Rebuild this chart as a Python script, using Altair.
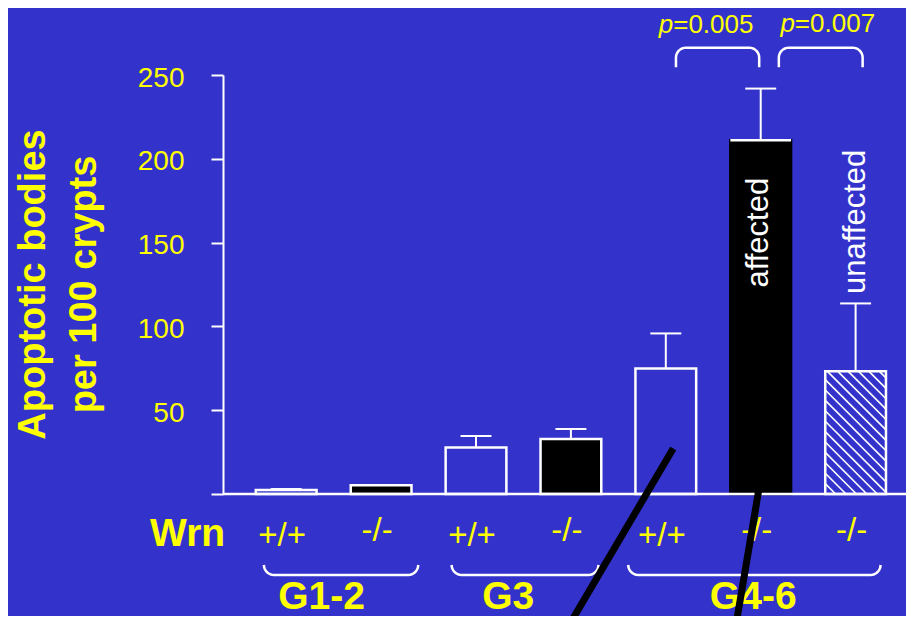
import altair as alt
import pandas as pd
import numpy as np

# ---------------- data ----------------
genotype = ["+/+", "-/-", "+/+", "-/-", "+/+", "-/-", "-/-"]
generation = ["G1-2", "G1-2", "G3", "G3", "G4-6", "G4-6", "G4-6"]
apoptotic_mean = [2.4, 5.2, 27.8, 32.8, 74.9, 211.1, 73.2]
apoptotic_err_top = [3.0, None, 34.6, 38.8, 95.8, 241.9, 113.7]
bar_style = ["open", "solid", "open", "solid", "open", "solid_plain", "hatched"]
bar_note = ["", "", "", "", "", "affected", "unaffected"]
group_names = ["G1-2", "G3", "G4-6"]
p_labels = ["=0.005", "=0.007"]
y_ticks = [0, 50, 100, 150, 200, 250]

# ---------------- layout (data units) ----------------
BG = "#3333CC"
YEL = "#FFFF00"
FONT = "Liberation Sans"
W, H = 683, 419
XMIN, XMAX = -0.666, 6.531
YMAX = 250
PXX = W / (XMAX - XMIN)
PXY = H / YMAX
HALF = 0.32
CAP = 0.163

xs = alt.Scale(domain=[XMIN, XMAX], nice=False, zero=False)
ys = alt.Scale(domain=[0, YMAX], nice=False, zero=False)

yaxis = alt.Axis(
    values=y_ticks, labelExpr="datum.value == 0 ? '' : datum.label",
    grid=False, domainColor="white", domainWidth=2, tickColor="white", tickWidth=2,
    tickSize=12, labelColor=YEL, labelFontSize=28, labelPadding=27, labelOffset=3,
    labelFont=FONT,
    title=["Apoptotic bodies", "per 100 crypts"], titleColor=YEL, titleFont=FONT,
    titleFontSize=38, titleFontWeight="bold", titleAngle=270, titleAlign="center",
    titleBaseline="alphabetic", titleLineHeight=51, titleX=-179, titleY=209,
)


def X(f):
    return alt.X(f, scale=xs, axis=None)


def Y(f):
    return alt.Y(f, scale=ys, axis=yaxis)


n = len(genotype)
idx = list(range(n))
fills = {"open": BG, "solid": "black", "solid_plain": "black", "hatched": BG}
strokes = {"open": "white", "solid": "white", "solid_plain": "black", "hatched": "white"}

bars = pd.DataFrame({
    "x0": [i - HALF for i in idx], "x1": [i + HALF for i in idx],
    "mean": apoptotic_mean, "zero": [0] * n,
    "fill": [fills[s] for s in bar_style], "stroke": [strokes[s] for s in bar_style],
})

err = pd.DataFrame({"x": idx, "mean": apoptotic_mean, "top": apoptotic_err_top})
err = err.dropna()
err["c0"] = err["x"] - CAP
err["c1"] = err["x"] + CAP

# hatch pattern for the hatched bar (geometry, in pixels converted to data units)
hx = []
for i, s in enumerate(bar_style):
    if s != "hatched":
        continue
    bx0, bx1 = 0.0, 2 * HALF * PXX
    by0, by1 = 0.0, apoptotic_mean[i] * PXY
    step = 10.4
    c = -by1
    while c < bx1:
        xa = max(bx0, c + by0)
        xb = min(bx1, c + by1)
        if xb > xa:
            ya, yb = xa - c, xb - c
            hx.append({
                "x": i - HALF + xa / PXX, "x2": i - HALF + xb / PXX,
                "y": apoptotic_mean[i] - ya / PXY, "y2": apoptotic_mean[i] - yb / PXY,
            })
        c += step
hatch = pd.DataFrame(hx)

topedge = pd.DataFrame([{"x0": i - HALF, "x1": i + HALF, "y": apoptotic_mean[i]}
                        for i, s in enumerate(bar_style) if s == "solid_plain"])

baseline = pd.DataFrame({"x0": [XMIN], "x1": [XMAX], "y": [0]})

geno_y = [-31.0 if g == "+/+" else -28.0 for g in genotype]
geno = pd.DataFrame({"x": idx, "y": geno_y, "t": genotype})

wrn = pd.DataFrame({"x": [-1.435], "y": [-30.8], "t": ["Wrn"]})

group_span = [(-0.235, 1.391), (1.743, 3.29), (3.604, 6.263)]
group_label_x = [0.373, 2.339, 4.921]
groups = pd.DataFrame({"x": group_label_x, "y": [-68.6] * 3, "t": group_names})


def bracket(bid, x0, x1, yflat, yend, r=10):
    rx, ry = r / PXX, r / PXY
    sgn = 1 if yend > yflat else -1
    pts = [(x0, yend), (x0, yflat + sgn * ry)]
    for a in np.linspace(0, np.pi / 2, 9)[1:]:
        pts.append((x0 + rx - rx * np.cos(a), yflat + sgn * ry - sgn * ry * np.sin(a)))
    for a in np.linspace(np.pi / 2, 0, 9):
        pts.append((x1 - rx + rx * np.cos(a), yflat + sgn * ry - sgn * ry * np.sin(a)))
    pts.append((x1, yend))
    return [{"b": bid, "k": k, "x": p[0], "y": p[1]} for k, p in enumerate(pts)]


brk = []
for j, (a, b) in enumerate(group_span):
    brk += bracket(f"g{j}", a, b, -48.3, -42.3)
p_span = [(4.107, 4.984), (5.191, 6.074)]
for j, (a, b) in enumerate(p_span):
    brk += bracket(f"p{j}", a, b, 266.3, 254.6)
brackets = pd.DataFrame(brk)

pvals = pd.DataFrame({"x": [4.078, 5.360], "y": [275.0, 275.4], "t": p_labels, "p": ["p", "p"]})

notes = pd.DataFrame({"x": [5.079, 6.098], "y": [155.9, 162.4], "t": [t for t in bar_note if t]})

pointers = pd.DataFrame({"x": [4.078, 5.139], "y": [27.2, 56.0], "x2": [2.890, 4.713], "y2": [-87.0, -87.0]})

# ---------------- chart ----------------
bar_layer = alt.Chart(bars).mark_rect(strokeWidth=2.5).encode(
    x=X("x0:Q"), x2="x1:Q", y=Y("mean:Q"), y2="zero:Q",
    fill=alt.Fill("fill:N", scale=None), stroke=alt.Stroke("stroke:N", scale=None),
)

hatch_layer = alt.Chart(hatch).mark_rule(color="white", strokeWidth=1.6).encode(
    x=X("x:Q"), x2="x2:Q", y=Y("y:Q"), y2="y2:Q",
)

top_layer = alt.Chart(topedge).mark_rule(color="white", strokeWidth=2.5).encode(
    x=X("x0:Q"), x2="x1:Q", y=Y("y:Q"),
)

base_layer = alt.Chart(baseline).mark_rule(color="white", strokeWidth=2.5).encode(
    x=X("x0:Q"), x2="x1:Q", y=Y("y:Q"),
)

whisk = alt.Chart(err).mark_rule(color="white", strokeWidth=2).encode(
    x=X("x:Q"), y=Y("mean:Q"), y2="top:Q",
)
caps = alt.Chart(err).mark_rule(color="white", strokeWidth=2).encode(
    x=X("c0:Q"), x2="c1:Q", y=Y("top:Q"),
)

brk_layer = alt.Chart(brackets).mark_line(color="white", strokeWidth=2.5, strokeJoin="round").encode(
    x=X("x:Q"), y=Y("y:Q"), detail="b:N", order="k:Q",
)


def text_layer(df, field="t", **kw):
    return alt.Chart(df).mark_text(font=FONT, **kw).encode(
        x=X("x:Q"), y=Y("y:Q"), text=f"{field}:N",
    )


geno_layer = text_layer(geno, fontSize=33, color=YEL, align="center", baseline="alphabetic", dx=-4)
wrn_layer = text_layer(wrn, fontSize=39, fontWeight="bold", color=YEL, align="left", baseline="alphabetic")
grp_layer = text_layer(groups, fontSize=39, fontWeight="bold", color=YEL, align="center", baseline="alphabetic")
pval_layer = text_layer(pvals, fontSize=26, color=YEL, align="left", baseline="alphabetic")
pp_layer = text_layer(pvals, field="p", fontSize=26, fontStyle="italic", color=YEL,
                      align="right", baseline="alphabetic")
note_layer = text_layer(notes, fontSize=31, color="white", align="center", baseline="alphabetic", angle=270)

ptr_layer = alt.Chart(pointers).mark_rule(color="black", strokeWidth=7, strokeCap="butt").encode(
    x=X("x:Q"), x2="x2:Q", y=Y("y:Q"), y2="y2:Q",
)

chart = alt.layer(
    bar_layer, hatch_layer, top_layer, base_layer, whisk, caps, brk_layer,
    geno_layer, wrn_layer, grp_layer, pval_layer, pp_layer, note_layer, ptr_layer,
).properties(
    width=W, height=H,
    autosize=alt.AutoSizeParams(type="none"),
    padding={"left": 215, "top": 67, "right": 0, "bottom": 122},
).configure(background=BG, font=FONT).configure_view(stroke=None)

chart.save("out.html", embed_options={"renderer": "svg", "actions": False})
